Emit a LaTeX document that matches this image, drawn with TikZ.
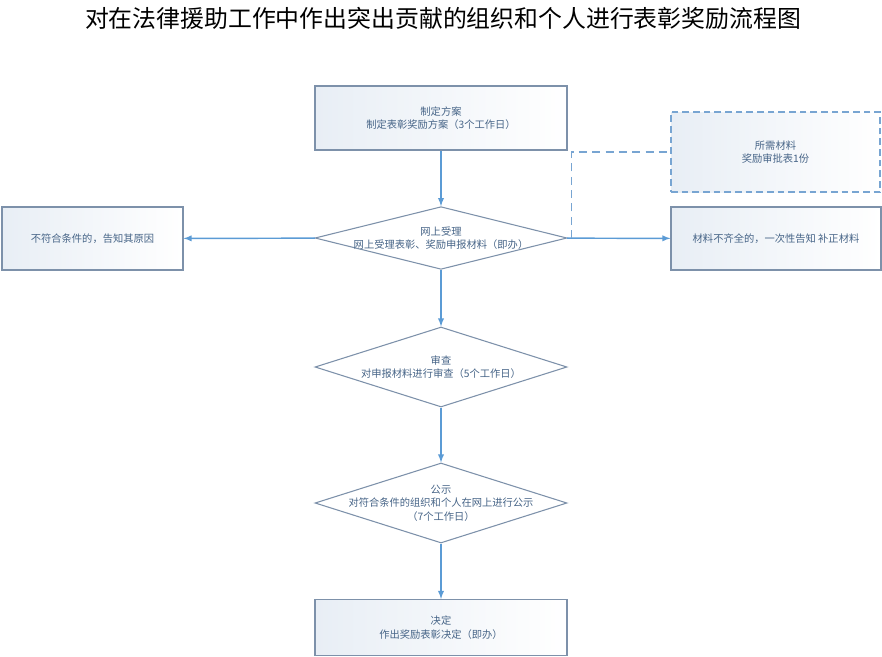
\documentclass[tikz,border=0pt]{standalone}
\usepackage{fontspec}
\setmainfont{Noto Sans CJK SC}
\usepackage{tikz}
\usetikzlibrary{shapes.geometric,arrows,positioning}

\definecolor{flowline}{RGB}{91,155,213}
\definecolor{dashline}{RGB}{120,165,210}
\definecolor{boxline}{RGB}{125,145,170}
\definecolor{boxtext}{RGB}{70,100,135}
\definecolor{boxfill}{RGB}{232,238,245}

\tikzset{
  stepbox/.style={draw=boxline, line width=0.8pt, left color=boxfill, right color=white,
    text=boxtext, align=center, inner sep=0pt, font=\fontsize{7.7}{10}\selectfont},
  needbox/.style={stepbox, draw=dashline, dashed, dash pattern=on 5pt off 3pt},
  decision/.style={diamond, draw=boxline, line width=0.8pt, fill=white, inner sep=0pt,
    minimum width=189pt, minimum height=60pt},
  dtext/.style={text=boxtext, align=center, font=\fontsize{7.7}{10}\selectfont},
  flow/.style={->, draw=flowline, line width=1.1pt},
  >=latex
}

\begin{document}
\begin{tikzpicture}[x=0.75pt, y=-0.75pt]
\useasboundingbox (0,0) rectangle (882,657);

\node (title) at (443,18) [font=\fontsize{17.9}{20}\selectfont] {对在法律援助工作中作出突出贡献的组织和个人进行表彰奖励流程图};

\node (plan) at (441,118) [stepbox, minimum width=189pt, minimum height=48pt] {制定方案\\制定表彰奖励方案（3个工作日）};

\node (accept) at (441,238) [decision, minimum height=47pt] {};
\node (accept_txt) at (accept) [dtext] {网上受理\\网上受理表彰、奖励申报材料（即办）};

\node (reject) at (92.5,238.5) [stepbox, minimum width=135.75pt, minimum height=47.25pt] {不符合条件的，告知其原因};
\node (supply) at (776,238.5) [stepbox, minimum width=157.5pt, minimum height=47.25pt] {材料不齐全的，一次性告知 补正材料};
\node (need) at (775.5,152) [needbox, minimum width=156.75pt, minimum height=60pt] {所需材料\\奖励审批表1份};

\node (review) at (441,367) [decision] {};
\node (review_txt) at (review) [dtext] {审查\\对申报材料进行审查（5个工作日）};

\node (publish) at (441,503) [decision] {};
\node (publish_txt) at (publish) [dtext] {公示\\对符合条件的组织和个人在网上进行公示\\（7个工作日）};

\node (decide) at (441,627.5) [stepbox, minimum width=189pt, minimum height=42pt] {决定\\作出奖励表彰决定（即办）};

\draw [flow] (plan) -- (accept);
\draw [flow] (accept) -- (reject);
\draw [flow] (accept) -- (supply);
\draw [flow] (accept) -- (review);
\draw [flow] (review) -- (publish);
\draw [flow] (publish) -- (decide);
\draw [draw=dashline, line width=1.2pt, dashed, dash pattern=on 6pt off 4pt] ([xshift=3pt]accept.east) |- (need.west);

\end{tikzpicture}
\end{document}
